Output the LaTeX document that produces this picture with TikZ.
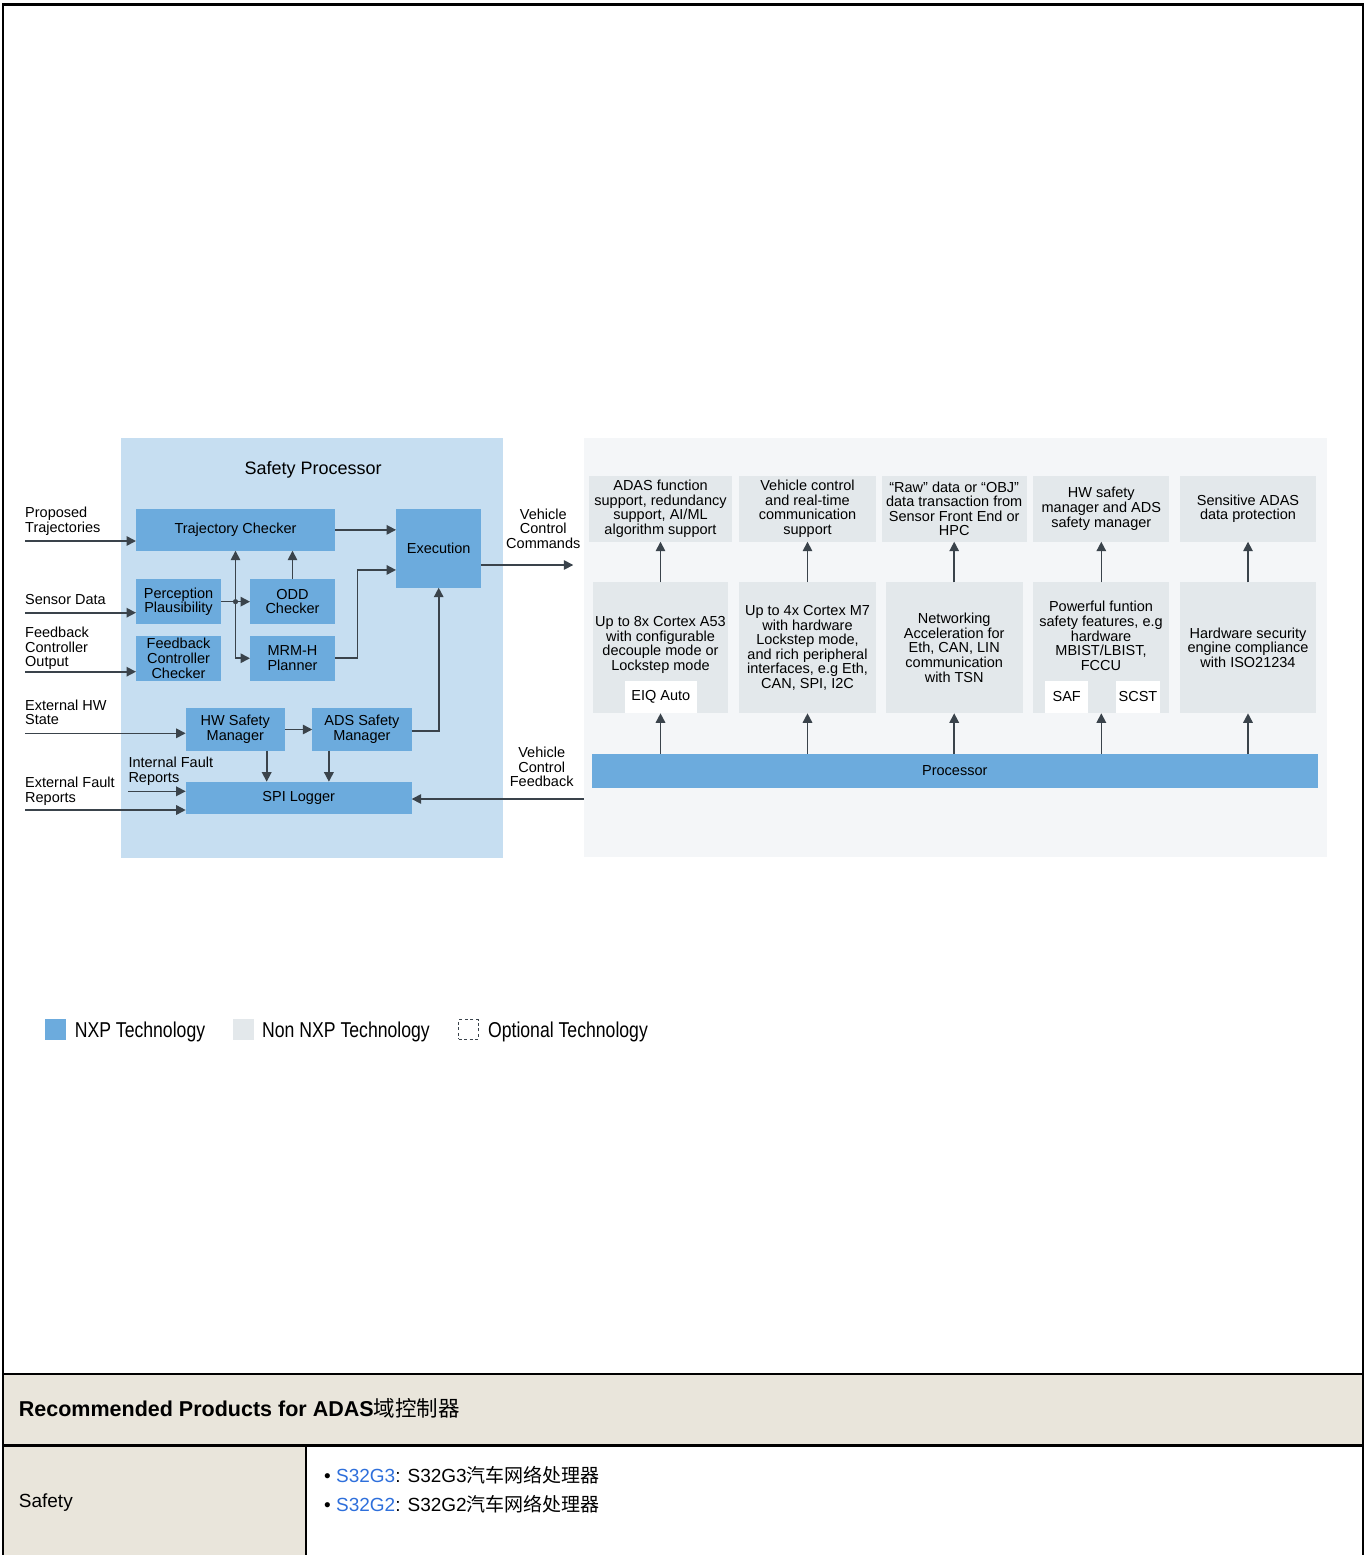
\documentclass[tikz,border=0pt]{standalone}
\usepackage{fontspec}
\setmainfont{Liberation Sans}
\newfontfamily\cjk{Noto Sans CJK SC}
\newfontfamily\narrowsans[FakeStretch=0.82]{Liberation Sans}
\usepackage{xcolor}
\usetikzlibrary{positioning}
\usetikzlibrary{calc}
\usetikzlibrary{arrows.meta}

\definecolor{nxpblue}{HTML}{6CABDD}
\definecolor{panelblue}{HTML}{C6DEF1}
\definecolor{nongray}{HTML}{E3E8EB}
\definecolor{panelgray}{HTML}{F4F6F8}
\definecolor{linegray}{HTML}{3A434B}
\definecolor{beige}{HTML}{E9E5DB}
\definecolor{linkblue}{HTML}{2E6FDB}

\newcommand{\boxfont}{\fontsize{14.5}{14.6}\selectfont}
\newcommand{\legfont}{\narrowsans\fontsize{21.5}{22}\selectfont}

\begin{document}
\begin{tikzpicture}[
      x=1pt, y=1pt,
      node distance=11.3pt and 29pt,
      nxpbox/.style={fill=nxpblue,inner sep=0pt,outer sep=0pt,align=center,font=\boxfont},
      smallbox/.style={nxpbox,minimum width=85pt,minimum height=45.3pt},
      mgrbox/.style={nxpbox,minimum width=99.3pt,minimum height=42.4pt},
      topbox/.style={fill=nongray,inner sep=0pt,outer sep=0pt,align=center,font=\boxfont,minimum height=65.7pt},
      botbox/.style={topbox,minimum height=131pt},
      whitebox/.style={fill=white,inner sep=0pt,outer sep=0pt,font=\boxfont,minimum height=32pt},
      lbl/.style={inner sep=0pt,align=left,font=\boxfont},
      arr/.style={draw=linegray,line width=1.6pt,-{Triangle[length=9.5pt,width=9.5pt]}}
      ]
      \useasboundingbox (0,0) rectangle (1364,-1555);

      % panels
      \fill[panelblue] (120.7,-438.3) rectangle (502.7,-857.5);
      \fill[panelgray] (584,-438.3) rectangle (1327.3,-857);

      \node[anchor=base,inner sep=0pt,font=\fontsize{18}{18}\selectfont] (sptitle) at (313.2,-474.3) {Safety Processor};

      % safety processor blocks
      \node[nxpbox,minimum width=199pt,minimum height=41.7pt] (tc) at (235.5,-529.85) {Trajectory Checker};
      \node[smallbox,below=28.3pt of tc.south west,anchor=north west] (pp) {Perception\\Plausibility};
      \node[smallbox,right=of pp] (odd) {ODD\\Checker};
      \node[smallbox,below=of pp] (fcc) {Feedback\\Controller\\Checker};
      \node[smallbox,below=of odd] (mrm) {MRM-H\\Planner};
      \node[nxpbox,minimum width=85.3pt,minimum height=78.7pt] (exe) at (438.7,-548.35) {Execution};
      \node[mgrbox] (hw) at (235.3,-729.5) {HW Safety\\Manager};
      \node[mgrbox,right=27.3pt of hw] (ads) {ADS Safety\\Manager};
      \node[nxpbox,minimum width=226pt,minimum height=32.6pt] (spi) at (298.7,-798) {SPI Logger};

      % input labels
      \node[lbl,anchor=north west] (lpt) at (25,-507) {Proposed\\Trajectories};
      \node[lbl,anchor=north west] (lsd) at (25,-594) {Sensor Data};
      \node[lbl,anchor=north west] (lfc) at (25,-627) {Feedback\\Controller\\Output};
      \node[lbl,anchor=north west] (lhw) at (25,-699.3) {External HW\\State};
      \node[lbl,anchor=north west] (lif) at (128.3,-756.7) {Internal Fault\\Reports};
      \node[lbl,anchor=north west] (lef) at (25,-776.7) {External Fault\\Reports};
      \node[lbl,align=center,anchor=north] (lvcc) at (543.3,-508.3) {Vehicle\\Control\\Commands};
      \node[lbl,align=center,anchor=north] (lvcf) at (541.7,-746.7) {Vehicle\\Control\\Feedback};

      \coordinate (inpt) at (25,-541);
      \coordinate (insd) at (25,-612.7);
      \coordinate (infc) at (25,-671.7);
      \coordinate (inhw) at (25,-733.3);
      \coordinate (inif) at (128.3,-791.3);
      \coordinate (inef) at (25,-810);
      \coordinate (vcc) at (573.3,-565);
      \coordinate (vcf) at (584,-799);
      \coordinate (jn) at ($(pp.east)!0.5!(odd.west)$);

      \draw[arr] (inpt) -- (inpt -| tc.west);
      \draw[arr] (insd) -- (insd -| pp.west);
      \draw[arr] (infc) -- (infc -| fcc.west);
      \draw[arr] (inhw) -- (inhw -| hw.west);
      \draw[arr] (inif) -- (inif -| spi.west);
      \draw[arr] (inef) -- (inef -| spi.west);

      \draw[arr] (tc) -- (tc -| exe.west);
      \draw[arr] (pp) -- (odd);
      \draw[arr] (jn) -- (jn |- tc.south);
      \draw[arr] (jn) |- (mrm.west);
      \fill[linegray] (jn) circle (2.6pt);
      \draw[arr] (odd) -- (odd |- tc.south);
      \draw[arr] (mrm.east) -- ++(22.3,0) |- ([yshift=-21.6pt]exe.west);
      \draw[arr] (hw) -- (ads);
      \draw[arr] ([yshift=-1.5pt]ads.east) -| (exe.south);
      \draw[arr] ([xshift=31.4pt]hw.south) -- ([xshift=31.4pt]hw.south |- spi.north);
      \draw[arr] ([xshift=-33pt]ads.south) -- ([xshift=-33pt]ads.south |- spi.north);
      \draw[arr] (vcc -| exe.east) -- (vcc);
      \draw[arr] (vcf) -- (vcf -| spi.east);

      % processor side
      \node[topbox,minimum width=142.4pt] (t1) at (660.5,-508.85) {ADAS function\\support, redundancy\\support, AI/ML\\algorithm support};
      \node[topbox,minimum width=136.4pt] (t2) at (807.5,-508.85) {Vehicle control\\and real-time\\communication\\support};
      \node[topbox,minimum width=145pt] (t3) at (954.2,-508.85) {“Raw” data or “OBJ”\\data transaction from\\Sensor Front End or\\HPC};
      \node[topbox,minimum width=136pt] (t4) at (1101.3,-508.85) {HW safety\\manager and ADS\\safety manager};
      \node[topbox,minimum width=136pt] (t5) at (1248,-508.85) {Sensitive ADAS\\data protection};

      \node[botbox,minimum width=135.6pt,below=40.6pt of t1] (b1) {};
      \node[botbox,minimum width=136.4pt,below=40.6pt of t2] (b2) {Up to 4x Cortex M7\\with hardware\\Lockstep mode,\\and rich peripheral\\interfaces, e.g Eth,\\CAN, SPI, I2C};
      \node[botbox,minimum width=136.7pt,below=40.6pt of t3] (b3) {Networking\\Acceleration for\\Eth, CAN, LIN\\communication\\with TSN};
      \node[botbox,minimum width=136pt,below=40.6pt of t4] (b4) {};
      \node[botbox,minimum width=136pt,below=40.6pt of t5] (b5) {Hardware security\\engine compliance\\with ISO21234};
      \node[lbl,align=center] (b1txt) at (660.5,-645) {Up to 8x Cortex A53\\with configurable\\decouple mode or\\Lockstep mode};
      \node[lbl,align=center] (b4txt) at (1101,-636) {Powerful funtion\\safety features, e.g\\hardware\\MBIST/LBIST,\\FCCU};

      \node[whitebox,minimum width=71.7pt] (eiq) at (660.8,-696.7) {EIQ Auto};
      \node[whitebox,minimum width=43.3pt] (saf) at (1066.7,-696.7) {SAF};
      \node[whitebox,minimum width=44pt] (scst) at (1138,-696.7) {SCST};

      \node[nxpbox,minimum width=725.6pt,minimum height=33.7pt] (proc) at (954.8,-770.9) {Processor};

      \path (b1) edge[arr] (t1)
      (b2) edge[arr] (t2)
      (b3) edge[arr] (t3)
      (b4) edge[arr] (t4)
      (b5) edge[arr] (t5)
      ;
      \draw[arr] (proc.north -| b1) -- (b1.south);
      \draw[arr] (proc.north -| b2) -- (b2.south);
      \draw[arr] (proc.north -| b3) -- (b3.south);
      \draw[arr] (proc.north -| b4) -- (b4.south);
      \draw[arr] (proc.north -| b5) -- (b5.south);

      % legend
      \node[fill=nxpblue,minimum size=21pt,inner sep=0pt] (lgnxp) at (55.5,-1029.5) {};
      \node[anchor=base west,inner sep=0pt,font=\legfont] (lgnxptxt) at (74.6,-1037.3) {NXP Technology};
      \node[fill=nongray,minimum size=21pt,inner sep=0pt] (lgnon) at (243.4,-1029.5) {};
      \node[anchor=base west,inner sep=0pt,font=\legfont] (lgnontxt) at (262,-1037.3) {Non NXP Technology};
      \node[draw=linegray,dash pattern=on 3pt off 2.5pt,line width=0.8pt,minimum size=19.5pt,inner sep=0pt] (lgopt) at (468.4,-1029.5) {};
      \node[anchor=base west,inner sep=0pt,font=\legfont] (lgopttxt) at (487.9,-1037.3) {Optional Technology};

      % table
      \fill[beige] (4,-1375) rectangle (1362,-1443.5);
      \fill[beige] (4,-1447) rectangle (305,-1555);
      \draw[line width=2pt] (3,-1374) -- (1363,-1374);
      \draw[line width=3.6pt] (3,-1445.3) -- (1363,-1445.3);
      \draw[line width=2pt] (306,-1447) -- (306,-1555);
      \draw[line width=2.4pt] (2.8,-1555) -- (2.8,-4.5) -- (1362.8,-4.5);
      \draw[line width=1.8pt] (1362.8,-3.3) -- (1362.8,-1555);

      \node[anchor=base west,inner sep=0pt,font=\bfseries\fontsize{21.5}{22}\selectfont] (hdr) at (18.7,-1416.5) {Recommended Products for ADAS{\cjk\mdseries 域控制器}};
      \node[anchor=base west,inner sep=0pt,font=\fontsize{19}{20}\selectfont] (safety) at (18.7,-1507) {Safety};
      \node[anchor=base west,inner sep=0pt,font=\fontsize{19}{20}\selectfont] (prod1) at (324,-1482.5) {\textbullet\ \textcolor{linkblue}{S32G3}: S32G3{\cjk 汽车网络处理器}};
      \node[anchor=base west,inner sep=0pt,font=\fontsize{19}{20}\selectfont] (prod2) at (324,-1511.5) {\textbullet\ \textcolor{linkblue}{S32G2}: S32G2{\cjk 汽车网络处理器}};

    \end{tikzpicture}
\end{document}
